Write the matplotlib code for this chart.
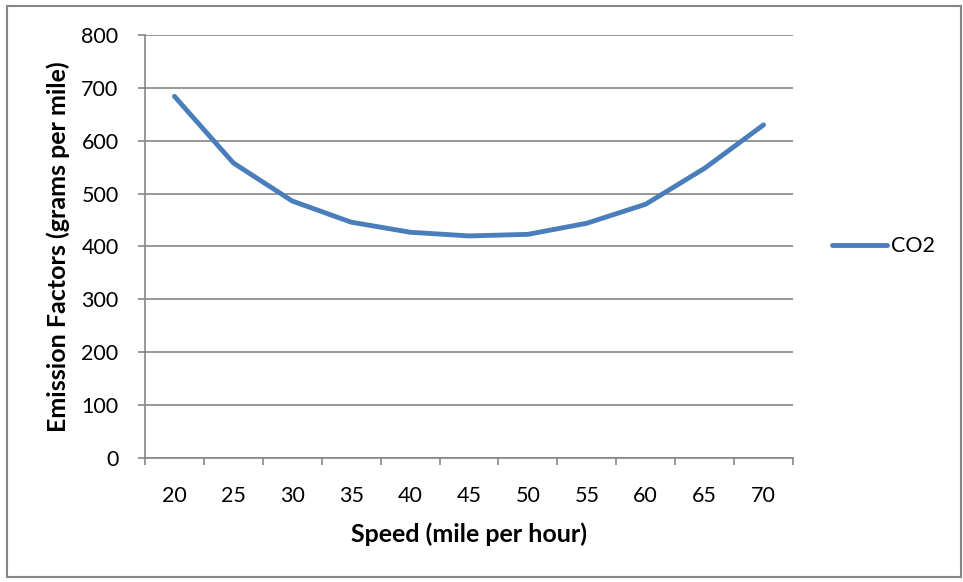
import matplotlib.pyplot as plt
from matplotlib.patches import Rectangle

plt.rcParams['font.family'] = ['Lato', 'DejaVu Sans']

speeds = [20, 25, 30, 35, 40, 45, 50, 55, 60, 65, 70]
co2 = [684, 558, 486, 446, 427, 420, 423, 444, 480, 548, 630]

fig = plt.figure(figsize=(9.63, 5.82), dpi=100)
ax = fig.add_axes([145 / 963, 1 - 458 / 582, 648 / 963, 423 / 582])

pos = list(range(len(speeds)))
ax.plot(pos, co2, color='#4a7ebb', linewidth=3.5, solid_capstyle='round',
        solid_joinstyle='round', label='CO2')

ax.set_xlim(-0.5, len(speeds) - 0.5)
ax.set_ylim(0, 800)
ax.set_yticks(range(0, 801, 100))
# category axis: ticks between categories, labels centred on them
ax.set_xticks([p - 0.5 for p in pos] + [len(speeds) - 0.5])
ax.set_xticklabels([])
ax.set_xticks(pos, minor=True)
ax.set_xticklabels([str(s) for s in speeds], minor=True)
ax.tick_params(axis='x', which='minor', length=0, pad=20, labelsize=15.5)
ax.tick_params(axis='x', which='major', length=5, color='#868686', width=1.2)
ax.tick_params(axis='y', length=5, color='#868686', width=1.2, labelsize=15.5, pad=14)

ax.grid(axis='y', color='#868686', linewidth=1.2)
ax.set_axisbelow(True)
for side in ['top', 'right']:
    ax.spines[side].set_visible(False)
ax.spines['left'].set_color('#868686')
ax.spines['bottom'].set_color('#868686')
ax.spines['left'].set_linewidth(1.2)
ax.spines['bottom'].set_linewidth(1.2)

ax.set_xlabel('Speed (mile per hour)', fontsize=18, fontweight='bold', labelpad=12)
ax.set_ylabel('Emission Factors (grams per mile)', fontsize=18, fontweight='bold', labelpad=8)

ax.legend(loc='center left', bbox_to_anchor=(1.031, 0.5), frameon=False,
          fontsize=15.5, handlelength=2.55, handletextpad=0.15)

fig.patches.append(Rectangle((7 / 963, 5 / 582), 954 / 963, 571 / 582,
                             transform=fig.transFigure, fill=False,
                             edgecolor='#868686', linewidth=1.5))

fig.savefig('out.png', dpi=100)
